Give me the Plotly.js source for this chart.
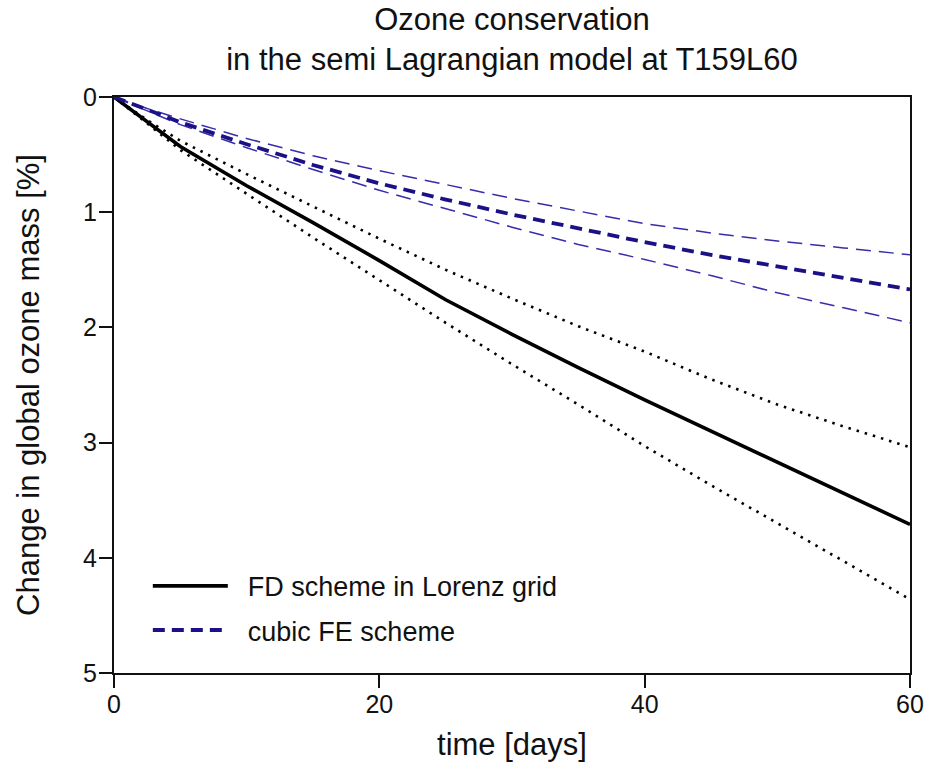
<!DOCTYPE html>
<html>
<head>
<meta charset="utf-8">
<script src="https://cdn.plot.ly/plotly-3.0.1.min.js"></script>
<style>html,body{margin:0;padding:0;background:#fff;}#chart{width:925px;height:762px;}</style>
</head>
<body>
<div id="chart"></div>
<script>
// time axis (days)
const days = [0, 2.5, 5, 10, 15, 20, 25, 30, 35, 40, 45, 50, 55, 60];
// FD scheme in Lorenz grid (mean and spread bounds), % change
const fdMean  = [0, 0.22, 0.43, 0.77, 1.09, 1.42, 1.76, 2.06, 2.35, 2.63, 2.90, 3.17, 3.44, 3.71];
const fdUpper = [0, 0.20, 0.38, 0.67, 0.95, 1.23, 1.50, 1.75, 1.99, 2.21, 2.45, 2.67, 2.86, 3.04];
const fdLower = [0, 0.23, 0.46, 0.84, 1.22, 1.59, 1.96, 2.32, 2.67, 3.03, 3.37, 3.70, 4.03, 4.36];
// cubic FE scheme (mean and spread bounds), % change
const feMean  = [0, 0.11, 0.22, 0.41, 0.59, 0.75, 0.89, 1.02, 1.14, 1.26, 1.37, 1.47, 1.57, 1.67];
const feUpper = [0, 0.10, 0.19, 0.36, 0.51, 0.64, 0.76, 0.88, 0.99, 1.10, 1.18, 1.25, 1.31, 1.37];
const feLower = [0, 0.12, 0.24, 0.44, 0.63, 0.81, 0.97, 1.13, 1.28, 1.41, 1.55, 1.70, 1.83, 1.96];
const legendNames = ["FD scheme in Lorenz grid", "cubic FE scheme"];
const xTicks = [0, 20, 40, 60];
const yTicks = [0, 1, 2, 3, 4, 5];

const FONT = "Liberation Sans, Arial, Helvetica, sans-serif";
const BLUE = "rgb(28,16,135)";
const BLUE_THIN = "rgb(55,45,170)";
const PAD = "\u00a0\u00a0";

const traces = [
  {x: days, y: fdUpper, mode: "lines", line: {color: "black", width: 2.6, dash: "2.5px,6px"}, showlegend: false, hoverinfo: "skip"},
  {x: days, y: fdLower, mode: "lines", line: {color: "black", width: 2.6, dash: "2.5px,6px"}, showlegend: false, hoverinfo: "skip"},
  {x: days, y: feUpper, mode: "lines", line: {color: BLUE_THIN, width: 1.5, dash: "15px,8px"}, showlegend: false, hoverinfo: "skip"},
  {x: days, y: feLower, mode: "lines", line: {color: BLUE_THIN, width: 1.5, dash: "15px,8px"}, showlegend: false, hoverinfo: "skip"},
  {x: days, y: fdMean, mode: "lines", name: PAD + legendNames[0], legendgroup: "a", line: {color: "black", width: 3.6}},
  {x: days, y: feMean, mode: "lines", name: PAD + legendNames[1], legendgroup: "b", line: {color: BLUE, width: 3.8, dash: "12px,7px"}}
];

const layout = {
  width: 925, height: 762,
  margin: {l: 114, r: 15, t: 97, b: 89},
  paper_bgcolor: "white", plot_bgcolor: "white",
  font: {family: FONT, size: 25, color: "#111"},
  title: {text: "Ozone conservation<br>in the semi Lagrangian model at T159L60", x: 0.5535, xanchor: "center", y: 0.961, yanchor: "middle", font: {family: FONT, size: 31, color: "#111"}},
  xaxis: {
    range: [0, 60], tickvals: xTicks, ticktext: xTicks.map(String),
    showgrid: false, zeroline: false, showline: true, linecolor: "#111", linewidth: 2, mirror: true,
    ticks: "outside", ticklen: 13, tickwidth: 2, tickcolor: "#111", ticklabelstandoff: -5,
    tickfont: {family: FONT, size: 25, color: "#111"},
    title: {text: "time [days]", font: {family: FONT, size: 31, color: "#111"}, standoff: 16}
  },
  yaxis: {
    range: [5, 0], tickvals: yTicks, ticktext: yTicks.map(String),
    showgrid: false, zeroline: false, showline: true, linecolor: "#111", linewidth: 2, mirror: true,
    ticks: "outside", ticklen: 13, tickwidth: 2, tickcolor: "#111", ticklabelstandoff: -3,
    tickfont: {family: FONT, size: 25, color: "#111"},
    title: {text: "Change in global ozone mass [%]", font: {family: FONT, size: 31, color: "#111"}, standoff: 34}
  },
  showlegend: true,
  legend: {
    x: 0.0425, y: 0.193, xanchor: "left", yanchor: "top",
    bgcolor: "rgba(0,0,0,0)", borderwidth: 0,
    font: {family: FONT, size: 27, color: "#111"},
    traceorder: "grouped", tracegroupgap: 6, itemwidth: 75
  }
};

Plotly.newPlot("chart", traces, layout, {displayModeBar: false, staticPlot: true});
</script>
</body>
</html>
